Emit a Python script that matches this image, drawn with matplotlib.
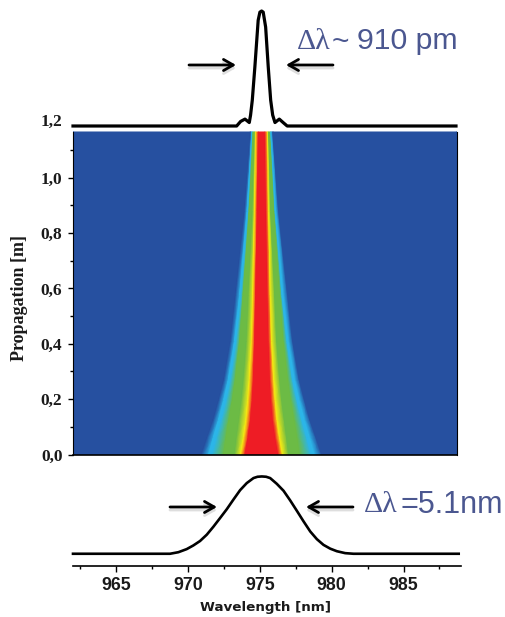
import numpy as np
import matplotlib
matplotlib.use('Agg')
import matplotlib.pyplot as plt
from matplotlib.colors import LinearSegmentedColormap
from matplotlib.patches import FancyArrowPatch

W, H = 505, 617

# top profile (output)
top_wl = [962.0, 973.40, 973.68, 973.98, 974.28, 974.37, 974.49, 974.67, 974.90, 975.02, 975.14,
          975.25, 975.42, 975.60, 975.77, 975.91, 976.07, 976.37, 976.64, 976.92, 988.68]
top_int = [0, 0, 0.04, 0.06, 0.03, 0.095, 0.225, 0.515, 0.92, 0.99, 1.0,
           0.99, 0.86, 0.515, 0.225, 0.095, 0.03, 0.06, 0.03, 0, 0]

# bottom profile (input)
bot_wl = [962.0, 968.75, 969.33, 969.91, 970.37, 970.84, 971.31, 971.77, 972.23, 972.70, 973.16,
          973.63, 974.09, 974.56, 974.84, 975.14, 975.44, 975.72, 976.18, 976.65, 977.11, 977.58,
          978.04, 978.51, 978.97, 979.43, 979.90, 980.36, 980.94, 981.52, 988.84]
bot_int = [0, 0, 0.02, 0.06, 0.107, 0.165, 0.247, 0.35, 0.461, 0.576, 0.70,
           0.823, 0.914, 0.979, 0.996, 1.0, 0.996, 0.979, 0.905, 0.815, 0.691, 0.555,
           0.42, 0.288, 0.189, 0.115, 0.066, 0.033, 0.008, 0, 0]

# map: half width of each colour band in nm, read at these propagation distances
centre = 975.14
prop = [0.0, 0.062, 0.125, 0.197, 0.27, 0.41, 0.575, 0.88, 1.165]
hw_red = [1.16, 0.95, 0.78, 0.66, 0.58, 0.49, 0.42, 0.31, 0.23]
hw_yellow = [1.46, 1.25, 1.08, 0.95, 0.85, 0.70, 0.61, 0.49, 0.42]
hw_green_in = [1.88, 1.74, 1.58, 1.40, 1.26, 1.05, 0.91, 0.63, 0.49]
hw_green_out = [2.65, 2.48, 2.28, 2.04, 1.84, 1.53, 1.29, 0.87, 0.59]
hw_cyan_in = [3.45, 3.14, 2.80, 2.46, 2.16, 1.76, 1.42, 0.94, 0.64]
hw_cyan = [3.69, 3.36, 3.00, 2.64, 2.32, 1.88, 1.53, 1.01, 0.68]
hw_edge = [4.18, 3.78, 3.36, 2.98, 2.62, 2.16, 1.81, 1.18, 0.77]

levels = [0, 0.2, 0.3, 0.42, 0.6, 0.8, 1.0]
level_colors = ['#2650a0', '#2cb5e8', '#2cb5e8', '#6cbb45', '#6cbb45', '#f7ec13', '#ee1c25']

y_ticks = [0.0, 0.2, 0.4, 0.6, 0.8, 1.0]
y_labels = ['0,0', '0,2', '0,4', '0,6', '0,8', '1,0']
y_minor = [0.1, 0.3, 0.5, 0.7, 0.9, 1.1]
x_ticks = [965, 970, 975, 980, 985]
x_minor = [962.5, 967.5, 972.5, 977.5, 982.5, 987.5]

TEXT_BLUE = '#4b5790'


def axes_px(x0, y0, x1, y1):
    return fig.add_axes([x0 / W, 1 - y1 / H, (x1 - x0) / W, (y1 - y0) / H])


def text_px(x, y, s, family, size, **kw):
    fig.text(x / W, 1 - y / H, s, family=family, fontsize=size, va='center', **kw)


def arrow(x0, x1, y):
    # drop shadow first, then the arrow
    for dy, col in [(3, '#dedede'), (0, 'black')]:
        fig.add_artist(FancyArrowPatch(
            (x0 / W, 1 - (y + dy) / H), (x1 / W, 1 - (y + dy) / H), transform=fig.transFigure,
            arrowstyle='->,head_length=7,head_width=4', color=col, lw=2.0, shrinkA=0, shrinkB=0))


fig = plt.figure(figsize=(W / 100, H / 100), dpi=100)

# main map
ax = axes_px(73, 122.3, 457, 454.5)
widths = np.array([hw_edge, hw_cyan, hw_cyan_in, hw_green_out, hw_green_in, hw_yellow, hw_red])
xs = np.vstack([centre - widths, centre + widths[::-1]]).T
xs = np.hstack([np.full((len(prop), 1), 962.0), xs, np.full((len(prop), 1), 988.75)])
row = levels + levels[::-1]
cs = np.tile([0] + row + [0], (len(prop), 1))
ys = np.tile(np.array(prop)[:, None], (1, xs.shape[1]))
cmap = LinearSegmentedColormap.from_list('beam', list(zip(levels, level_colors)), N=1024)
ax.pcolormesh(xs, ys, cs, cmap=cmap, vmin=0, vmax=1, shading='gouraud', rasterized=True)
ax.set_xlim(962, 988.75)
ax.set_ylim(0, 1.2)
ax.set_xticks([])
ax.set_yticks(y_ticks)
ax.set_yticklabels(y_labels, family='Liberation Serif', fontweight='bold', fontsize=12.5, color='#1a1a1a')
ax.set_yticks(y_minor, minor=True)
ax.tick_params(axis='y', which='major', length=3.6, width=1, pad=4)
ax.tick_params(axis='y', which='minor', length=2, width=1)
ax.spines['top'].set_visible(False)
ax.spines['left'].set_bounds(0, 1.165)
ax.spines['right'].set_bounds(0, 1.165)
ax.spines['left'].set_linewidth(0.8)
ax.spines['right'].set_linewidth(0.8)
ax.spines['bottom'].set_linewidth(1.2)
ax.patch.set_alpha(0)
text_px(20, 298, 'Propagation [m]', 'Liberation Serif', 13, fontweight='bold', rotation=90, ha='center',
        color='#1a1a1a')
text_px(62, 122, '1,2', 'Liberation Serif', 12.5, fontweight='bold', ha='right', color='#1a1a1a')

# top profile
ax_top = axes_px(73, 5, 457, 126)
ax_top.plot(top_wl, top_int, color='black', lw=2.3, solid_joinstyle='round', clip_on=False)
ax_top.set_xlim(962, 988.75)
ax_top.set_ylim(0, 121 / 115)
ax_top.axis('off')

# bottom profile and wavelength axis
ax_bot = axes_px(73, 465, 461, 565.5)
ax_bot.plot(bot_wl, bot_int, color='black', lw=1.9, solid_joinstyle='round', clip_on=False)
ax_bot.set_xlim(962, 989)
ax_bot.set_ylim(-12.3 / 81, 93 / 81)
ax_bot.set_yticks([])
for s in ['top', 'left', 'right']:
    ax_bot.spines[s].set_visible(False)
ax_bot.spines['bottom'].set_linewidth(1.2)
ax_bot.set_xticks(x_ticks)
ax_bot.set_xticklabels([str(t) for t in x_ticks], family='Liberation Sans', fontweight='bold', fontsize=12.8,
                       color='#1a1a1a')
ax_bot.set_xticks(x_minor, minor=True)
ax_bot.tick_params(axis='x', which='major', length=4.3, width=1, pad=4)
ax_bot.tick_params(axis='x', which='minor', length=2.2, width=1)
ax_bot.patch.set_alpha(0)
text_px(265.5, 608, 'Wavelength [nm]', 'DejaVu Sans', 9.7, fontweight='bold', ha='center', color='#1a1a1a')

arrow(189, 236, 65)
arrow(333, 286, 65)
arrow(170, 217, 507)
arrow(353, 306, 507)

text_px(297, 42, '\u0394\u03bb', 'Liberation Serif', 21.5, color=TEXT_BLUE, ha='left')
text_px(332, 42, '~', 'Liberation Sans', 21.5, color=TEXT_BLUE, ha='left')
text_px(357, 41, '910 pm', 'Liberation Sans', 21.8, color=TEXT_BLUE, ha='left')
text_px(364, 505, '\u0394\u03bb', 'Liberation Serif', 21.5, color=TEXT_BLUE, ha='left')
text_px(400, 505, '=5.1nm', 'Liberation Sans', 22, color=TEXT_BLUE, ha='left')

fig.savefig('out.png', dpi=100)
